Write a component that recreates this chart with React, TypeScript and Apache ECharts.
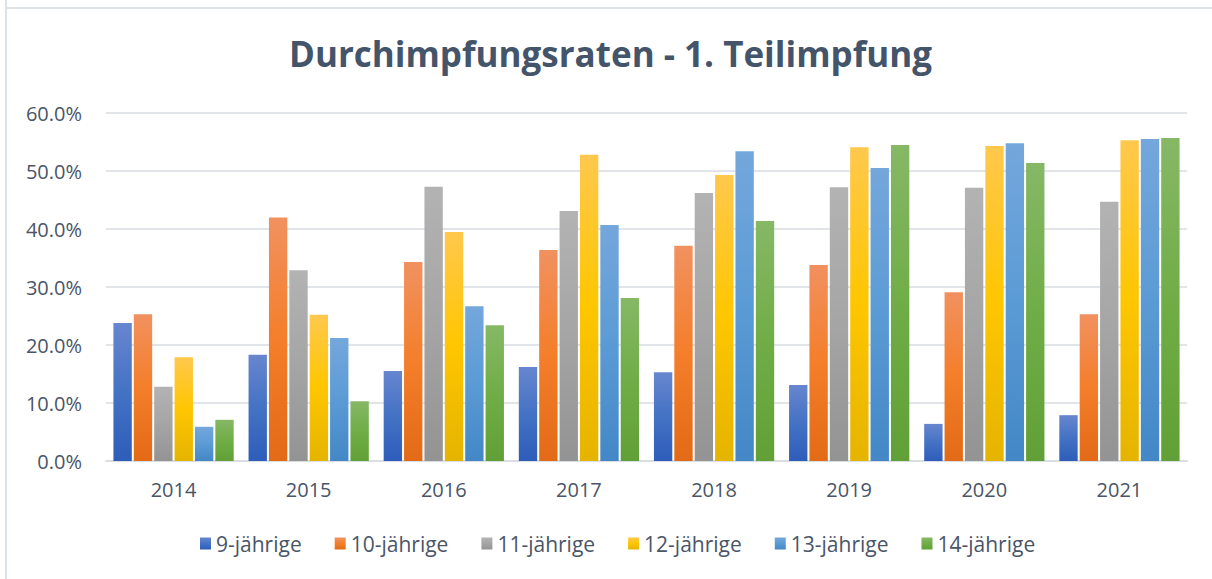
import React, { useEffect, useRef } from "react";
import * as echarts from "echarts";

const categories = ["2014", "2015", "2016", "2017", "2018", "2019", "2020", "2021"];
const seriesNames = ["9-jährige", "10-jährige", "11-jährige", "12-jährige", "13-jährige", "14-jährige"];
const age9 = [23.8, 18.3, 15.5, 16.2, 15.3, 13.1, 6.4, 7.9];
const age10 = [25.3, 42.0, 34.3, 36.4, 37.1, 33.8, 29.1, 25.3];
const age11 = [12.8, 32.9, 47.3, 43.1, 46.2, 47.2, 47.1, 44.7];
const age12 = [17.9, 25.2, 39.5, 52.8, 49.3, 54.1, 54.3, 55.3];
const age13 = [5.9, 21.2, 26.7, 40.7, 53.4, 50.5, 54.8, 55.5];
const age14 = [7.1, 10.3, 23.4, 28.1, 41.4, 54.5, 51.4, 55.7];
const seriesValues = [age9, age10, age11, age12, age13, age14];
const yTicks = { min: 0, max: 60, interval: 10 };

const gradients = [
  ["#6786CF", "#4472C4", "#2E5DBA"],
  ["#F19160", "#F47E2A", "#E36A17"],
  ["#B3B3B3", "#A5A5A5", "#939393"],
  ["#FFC84D", "#FFC600", "#E5B400"],
  ["#74A7DC", "#5B9BD5", "#4387C6"],
  ["#86B866", "#70AD47", "#61A036"],
];

const textColor = "#4A5568";

export default function App() {
  const ref = useRef<HTMLDivElement>(null);
  useEffect(() => {
    if (!ref.current) return;
    const chart = echarts.init(ref.current, null, { renderer: "svg" });
    const grad = (c: string[]) =>
      new echarts.graphic.LinearGradient(0, 0, 0, 1, [
        { offset: 0, color: c[0] },
        { offset: 0.5, color: c[1] },
        { offset: 1, color: c[2] },
      ]);
    chart.setOption({
      animation: false,
      backgroundColor: "#ffffff",
      title: {
        text: "Durchimpfungsraten - 1. Teilimpfung",
        left: 284,
        top: 31,
        textStyle: {
          fontFamily: "Open Sans",
          fontWeight: "bold",
          fontSize: 35,
          color: "#44546A",
        },
      },
      graphic: [
        { type: "line", shape: { x1: 6, y1: 0, x2: 6, y2: 579 }, style: { stroke: "#DCE1E6", lineWidth: 2 } },
        { type: "line", shape: { x1: 6, y1: 8, x2: 1212, y2: 8 }, style: { stroke: "#DCE1E6", lineWidth: 2 } },
      ],
      legend: {
        bottom: 20,
        left: 195,
        itemWidth: 11,
        itemHeight: 12,
        itemGap: 33,
        icon: "rect",
        textStyle: { fontFamily: "Open Sans", fontSize: 21, color: textColor },
        data: seriesNames,
      },
      grid: { left: 106, right: 25, top: 113, bottom: 118, containLabel: false },
      xAxis: {
        type: "category",
        data: categories,
        axisLine: { lineStyle: { color: "#D9DEE4", width: 2 } },
        axisTick: { show: false },
        axisLabel: { margin: 18, fontFamily: "Open Sans", fontSize: 20, color: textColor },
      },
      yAxis: {
        type: "value",
        min: yTicks.min,
        max: yTicks.max,
        interval: yTicks.interval,
        axisLine: { show: false },
        axisTick: { show: false },
        splitLine: { lineStyle: { color: "#E1E5EA", width: 2 } },
        axisLabel: {
          margin: 24,
          fontFamily: "Open Sans",
          fontSize: 20,
          color: textColor,
          formatter: (v: number) => v.toFixed(1) + "%",
        },
      },
      series: seriesNames.map((name, i) => ({
        name,
        type: "bar",
        data: seriesValues[i],
        barGap: "11%",
        barCategoryGap: "11%",
        itemStyle: { color: grad(gradients[i]) },
      })),
    });
    return () => chart.dispose();
  }, []);
  return (
    <div
      ref={ref}
      style={{ position: "absolute", left: 0, top: 0, width: 1212, height: 579 }}
    />
  );
}
